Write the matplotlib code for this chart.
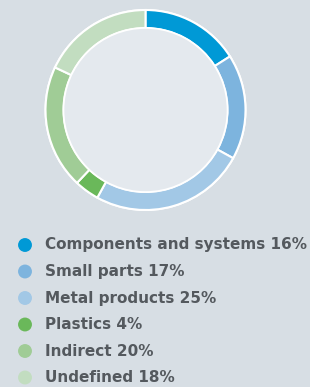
import matplotlib.pyplot as plt
from matplotlib.patches import Circle

categories = ["Components and systems", "Small parts", "Metal products",
              "Plastics", "Indirect", "Undefined"]
shares = [16, 17, 25, 4, 20, 18]
colors = ["#0099d6", "#7db4de", "#a2c8e6", "#6ab85a", "#a0cc96", "#c2ddc0"]

BG = "#d7dee4"
INNER = "#e4e9ee"
TEXT = "#54595e"

W, H = 310, 387
fig = plt.figure(figsize=(W / 100, H / 100), dpi=100)
fig.patch.set_facecolor(BG)
ax = fig.add_axes([0, 0, 1, 1])
ax.set_aspect("equal")

cx, cy, r_out, r_in = 145.5, H - 110, 100, 82

# white rim around the ring, then the ring, then the lighter inner disc
ax.add_patch(Circle((cx, cy), r_out + 1, facecolor="white", edgecolor="none"))
ax.pie(shares, colors=colors, startangle=90, counterclock=False,
       radius=r_out, center=(cx, cy), frame=True,
       wedgeprops=dict(width=r_out - r_in, edgecolor="white", linewidth=1.5))
ax.add_patch(Circle((cx, cy), r_in, facecolor=INNER, edgecolor="white", lw=1.2))
ax.set_xlim(0, W)
ax.set_ylim(0, H)
ax.axis("off")

y0, dy = H - 245, 26.5
for i, (name, val, c) in enumerate(zip(categories, shares, colors)):
    y = y0 - i * dy
    ax.scatter([25], [y], s=100, color=c, edgecolors="none")
    ax.text(45, y, f"{name} {val}%", fontsize=11, fontweight="bold",
            color=TEXT, va="center", ha="left", family="DejaVu Sans")

fig.savefig("out.png", dpi=100, facecolor=BG)
